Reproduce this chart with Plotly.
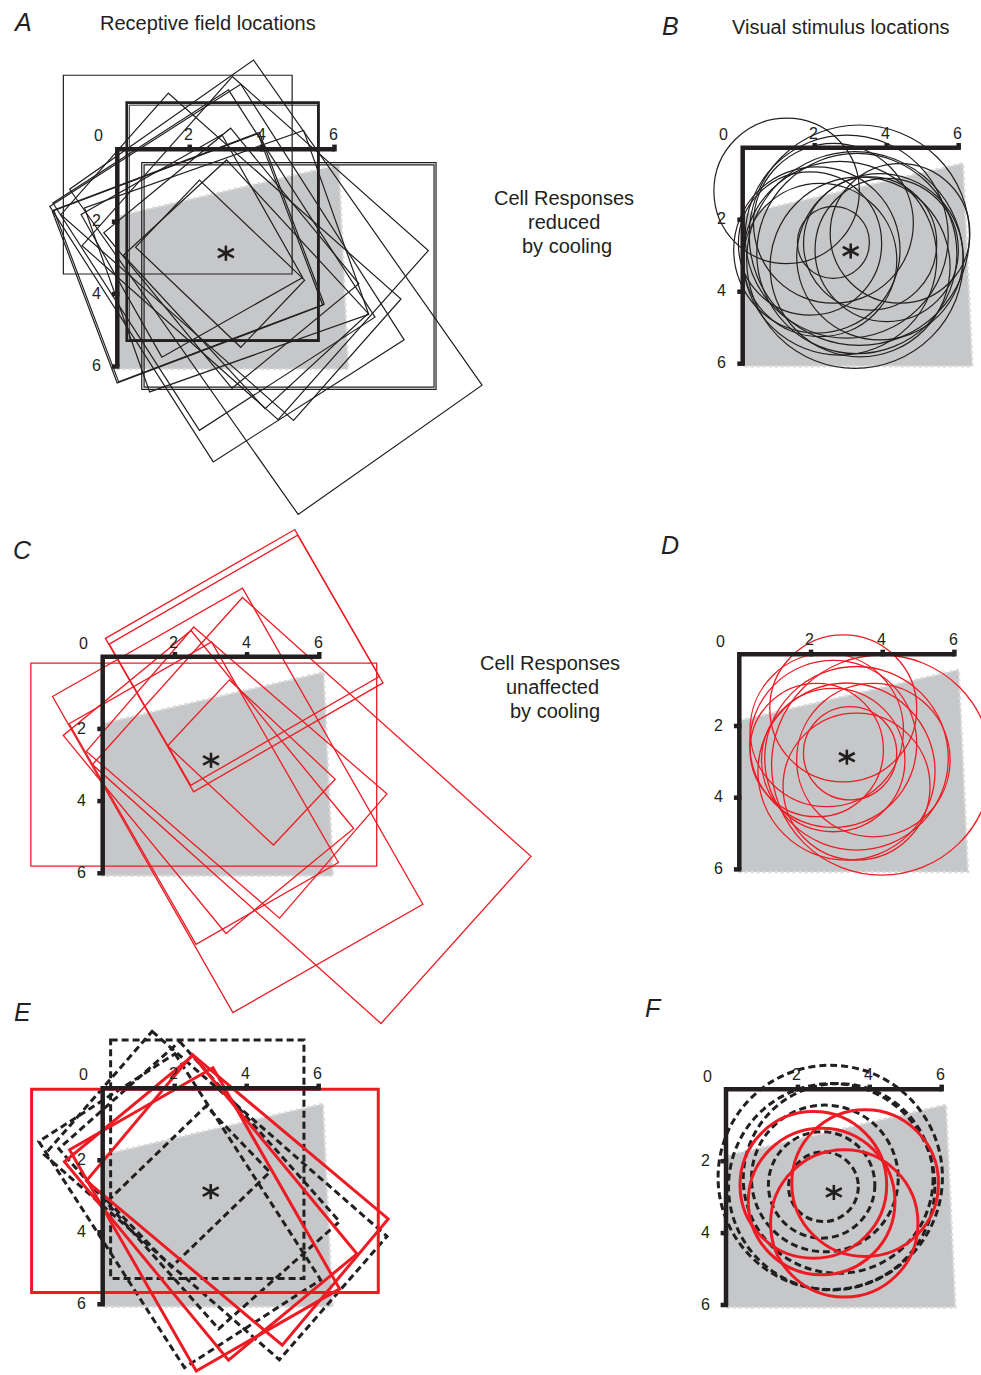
import math
import plotly.graph_objects as go

W, H = 981, 1375

# ---------------- DATA (grid units, y measured downward) ----------------
TICKS = [0, 2, 4, 6]
GRAY_X = [0.0, 6.12, 6.38, 0.0]
GRAY_Y = [1.85, 0.43, 6.07, 6.07]
STAR_X, STAR_Y = 3.0, 2.87

# Panel A: receptive fields, cells reduced by cooling (centre, width, height, angle)
A_CX = [1.67, 2.91, 2.93, 4.74, 4.745, 4.38, 2.84, 3.15, 2.67, 3.03, 1.94, 1.98, 3.02, 2.06, 3.14, 3.81, 3.55]
A_CY = [0.70, 2.00, 2.02, 3.50, 3.50, 3.81, 3.16, 3.01, 3.06, 3.42, 3.01, 2.98, 3.09, 2.67, 2.97, 2.73, 3.73]
A_W = [6.32, 5.30, 5.20, 8.13, 8.01, 10.98, 4.01, 5.57, 7.47, 8.38, 5.07, 5.07, 5.39, 4.53, 8.58, 7.24, 5.77]
A_H = [5.49, 6.58, 6.48, 6.26, 6.14, 6.21, 2.56, 4.54, 5.77, 6.26, 6.07, 6.07, 6.42, 4.47, 4.48, 6.25, 3.88]
A_ANG = [0, 0, 0, 0, 0, 54.9, 43.6, 50.5, 57.2, 57.4, 69.3, 69.3, 70.5, 60.5, 41.5, 41.6, 47.3]

# Panel B: visual stimuli, cells reduced by cooling (centre, radius)
B_CX = [1.22, 2.52, 3.12, 3.24, 2.89, 2.52, 3.17, 2.06, 2.70, 3.81, 4.00, 3.54, 2.15, 3.26, 1.87, 4.37]
B_CY = [1.20, 2.63, 3.12, 2.43, 2.47, 2.10, 2.94, 2.84, 3.07, 3.03, 2.84, 2.66, 3.12, 3.31, 2.66, 2.38]
B_R = [2.02, 1.00, 3.01, 3.06, 2.82, 2.22, 2.78, 2.31, 2.69, 2.31, 1.99, 1.85, 2.13, 2.50, 1.99, 1.94]

# Panel C: receptive fields, cells unaffected by cooling
C_CX = [2.80, 3.92, 3.92, 5.79, 3.74, 4.12, 2.93, 2.80, 3.71]
C_CY = [2.99, 0.11, 0.10, 4.26, 3.98, 2.93, 3.47, 3.78, 3.21]
C_W = [9.58, 6.05, 6.03, 10.74, 6.06, 4.02, 7.10, 7.05, 7.07]
C_H = [5.62, 4.90, 4.52, 6.22, 10.08, 2.50, 4.58, 4.55, 4.55]
C_ANG = [0, -29.9, -30.0, 41.9, -29.7, 43.2, 50.6, 60.1, 40.8]

# Panel D: visual stimuli, cells unaffected by cooling
D_CX = [3.97, 3.09, 2.90, 2.44, 2.62, 3.27, 2.99, 3.74, 2.62, 3.27, 2.16]
D_CY = [3.09, 2.76, 1.51, 2.11, 2.50, 2.90, 3.27, 2.95, 2.95, 3.69, 2.67]
D_R = [3.07, 1.30, 2.05, 2.14, 2.33, 2.56, 2.47, 2.14, 2.00, 2.05, 1.86]

# Panel E: receptive fields, reduced (dashed) vs unaffected (red)
E_RED_CX = [2.84, 3.00, 2.83, 3.74]
E_RED_CY = [2.85, 3.32, 3.64, 3.10]
E_RED_W = [9.63, 7.15, 7.08, 7.10]
E_RED_H = [5.65, 4.63, 4.59, 4.58]
E_RED_ANG = [0, 50.4, 60.2, 40.0]
E_DASH_CX = [2.905, 3.14, 2.68, 2.39, 2.14]
E_DASH_CY = [1.97, 2.98, 2.69, 2.73, 3.40]
E_DASH_W = [5.37, 8.66, 6.69, 3.80, 7.47]
E_DASH_H = [6.62, 4.55, 4.49, 2.55, 4.50]
E_DASH_ANG = [0, 41.1, 48.4, -44.0, 57.2]

# Panel F: visual stimuli, reduced (dashed) vs unaffected (red)
F_RED_CX = [2.43, 3.87, 2.66, 3.29]
F_RED_CY = [2.66, 2.61, 3.12, 3.73]
F_RED_R = [2.04, 2.04, 2.04, 2.05]
F_DASH_CX = [2.90, 2.94, 3.12, 2.75, 2.71, 2.66]
F_DASH_CY = [2.45, 2.71, 2.48, 2.48, 2.71, 2.66]
F_DASH_R = [3.12, 2.87, 2.64, 2.04, 0.97, 1.48]

# ---------------- LAYOUT / STYLE ----------------
# pixel position of each panel's (0,0) corner and pixels per grid unit
PANELS = [
    ("A", 117.3, 149.3, 36.2),
    ("B", 742.7, 147.7, 36.0),
    ("C", 102.7, 656.7, 36.1),
    ("D", 739.3, 654.3, 35.85),
    ("E", 102.7, 1088.3, 36.0),
    ("F", 726.0, 1089.3, 35.95),
]
INK = "#231f20"
RED = "#ed1c24"
GRAY_FILL = "#c6c7c9"
GRAY_EDGE = "#d9dadb"
FONT = "Liberation Sans, Arial, Helvetica, sans-serif"
A_LW = [1.2, 2.6, 1.0, 1.2, 1.2, 1.2, 1.2, 1.2, 1.2, 1.2, 1.2, 1.2, 1.2, 1.2, 1.2, 1.2, 1.2]
DASH = "7px,4px"
TICK_FONT = 16

shapes = []
annotations = []
traces = []


def refs(i):
    return ("x" if i == 1 else f"x{i}"), ("y" if i == 1 else f"y{i}")


def rect_path(cx, cy, w, h, ang):
    t = math.radians(ang)
    ux, uy = math.cos(t), math.sin(t)
    vx, vy = -uy, ux
    pts = []
    for a, b in [(-1, -1), (1, -1), (1, 1), (-1, 1)]:
        pts.append((cx + a * w / 2 * ux + b * h / 2 * vx, cy + a * w / 2 * uy + b * h / 2 * vy))
    return "M " + " L ".join(f"{x:.4f},{y:.4f}" for x, y in pts) + " Z"


def add_rects(i, cxs, cys, ws, hs, angs, color, widths, dash=None):
    xr, yr = refs(i)
    for k, (cx, cy, w, h, a) in enumerate(zip(cxs, cys, ws, hs, angs)):
        lw = widths[k] if isinstance(widths, list) else widths
        shapes.append(dict(type="path", path=rect_path(cx, cy, w, h, a), xref=xr, yref=yr,
                           line=dict(color=color, width=lw, dash=dash or "solid"),
                           fillcolor="rgba(0,0,0,0)", layer="above"))


def add_circles(i, cxs, cys, rs, color, width, dash=None):
    xr, yr = refs(i)
    for cx, cy, r in zip(cxs, cys, rs):
        shapes.append(dict(type="circle", xref=xr, yref=yr, x0=cx - r, x1=cx + r, y0=cy - r, y1=cy + r,
                           line=dict(color=color, width=width, dash=dash or "solid"),
                           fillcolor="rgba(0,0,0,0)", layer="above"))


def add_gray(i):
    xr, yr = refs(i)
    p = "M " + " L ".join(f"{x},{y}" for x, y in zip(GRAY_X, GRAY_Y)) + " Z"
    shapes.append(dict(type="path", path=p, xref=xr, yref=yr, fillcolor=GRAY_FILL,
                       line=dict(color=GRAY_EDGE, width=2.5, dash="dot"), layer="above"))


def add_axes_and_star(i):
    xr, yr = refs(i)
    lo, hi = TICKS[0], TICKS[-1]
    shapes.append(dict(type="path", path=f"M {hi},{lo} L {lo},{lo} L {lo},{hi}", xref=xr, yref=yr,
                       line=dict(color=INK, width=4.5), layer="above"))
    for t in TICKS[1:]:
        shapes.append(dict(type="line", xref=xr, yref=yr, x0=t, x1=t, y0=lo + 0.06, y1=lo - 0.13,
                           line=dict(color=INK, width=4.5), layer="above"))
        shapes.append(dict(type="line", xref=xr, yref=yr, x0=lo - 0.15, x1=lo + 0.06, y0=t, y1=t,
                           line=dict(color=INK, width=4.5), layer="above"))
    # asterisk: vertical arm plus two slanted arms
    for ang, half in [(90, 0.21), (28, 0.25), (-28, 0.25)]:
        t = math.radians(ang)
        dx, dy = half * math.cos(t), half * math.sin(t)
        shapes.append(dict(type="line", xref=xr, yref=yr, x0=STAR_X - dx, x1=STAR_X + dx,
                           y0=STAR_Y - dy, y1=STAR_Y + dy, line=dict(color=INK, width=2.6), layer="above"))
    # tick labels
    for t in TICKS:
        if t == lo:
            annotations.append(dict(text=str(t), x=lo - 0.52, y=lo - 0.37, xref=xr, yref=yr, showarrow=False,
                                    font=dict(size=TICK_FONT, color=INK, family=FONT)))
            continue
        annotations.append(dict(text=str(t), x=t - 0.03, y=lo - 0.40, xref=xr, yref=yr, showarrow=False,
                                font=dict(size=TICK_FONT, color=INK, family=FONT)))
        annotations.append(dict(text=str(t), x=lo - 0.58, y=t - 0.02, xref=xr, yref=yr, showarrow=False,
                                font=dict(size=TICK_FONT, color=INK, family=FONT)))


layout = dict(width=W, height=H, margin=dict(l=0, r=0, t=0, b=0), paper_bgcolor="white",
              plot_bgcolor="rgba(0,0,0,0)", showlegend=False)

for i, (name, ox, oy, s) in enumerate(PANELS, start=1):
    xr, yr = refs(i)
    xk = "xaxis" if i == 1 else f"xaxis{i}"
    yk = "yaxis" if i == 1 else f"yaxis{i}"
    layout[xk] = dict(domain=[0, 1], range=[-ox / s, (W - ox) / s], visible=False, fixedrange=True, anchor=yr)
    layout[yk] = dict(domain=[0, 1], range=[(H - oy) / s, -oy / s], visible=False, fixedrange=True, anchor=xr)
    traces.append(go.Scatter(x=[STAR_X], y=[STAR_Y], mode="markers", marker=dict(opacity=0),
                             xaxis=xr, yaxis=yr, hoverinfo="skip", showlegend=False))
    add_gray(i)
    if name == "A":
        add_rects(i, A_CX, A_CY, A_W, A_H, A_ANG, INK, A_LW)
    elif name == "B":
        add_circles(i, B_CX, B_CY, B_R, INK, 1.2)
    elif name == "C":
        add_rects(i, C_CX, C_CY, C_W, C_H, C_ANG, RED, 1.3)
    elif name == "D":
        add_circles(i, D_CX, D_CY, D_R, RED, 1.3)
    elif name == "E":
        add_rects(i, E_DASH_CX, E_DASH_CY, E_DASH_W, E_DASH_H, E_DASH_ANG, INK, 3, DASH)
        add_rects(i, E_RED_CX, E_RED_CY, E_RED_W, E_RED_H, E_RED_ANG, RED, 3)
    elif name == "F":
        add_circles(i, F_DASH_CX, F_DASH_CY, F_DASH_R, INK, 3, DASH)
        add_circles(i, F_RED_CX, F_RED_CY, F_RED_R, RED, 3)
    add_axes_and_star(i)


# panel letters and captions (paper pixel positions)
def paper_text(text, px, py, size=20, italic=False):
    annotations.append(dict(text=(f"<i>{text}</i>" if italic else text), x=px / W, y=1 - py / H,
                            xref="paper", yref="paper", showarrow=False, xanchor="center", yanchor="middle",
                            font=dict(size=size, color=INK, family=FONT)))


for letter, px, py in [("A", 22, 22), ("B", 670, 26), ("C", 22, 550), ("D", 670, 545), ("E", 22, 1012), ("F", 653, 1008)]:
    paper_text(letter, px, py, size=25, italic=True)
paper_text("Receptive field locations", 208, 23)
paper_text("Visual stimulus locations", 841, 27)
for txt, px, py in [("Cell Responses", 564, 198), ("reduced", 564, 222), ("by cooling", 567, 246),
                    ("Cell Responses", 550, 663), ("unaffected", 552, 687), ("by cooling", 555, 711)]:
    paper_text(txt, px, py)

layout["shapes"] = shapes
layout["annotations"] = annotations
fig = go.Figure(data=traces, layout=layout)
fig.write_html("out.html", config={"displayModeBar": False, "staticPlot": True},
               post_script="document.body.style.margin='0';document.body.style.overflow='hidden';")
